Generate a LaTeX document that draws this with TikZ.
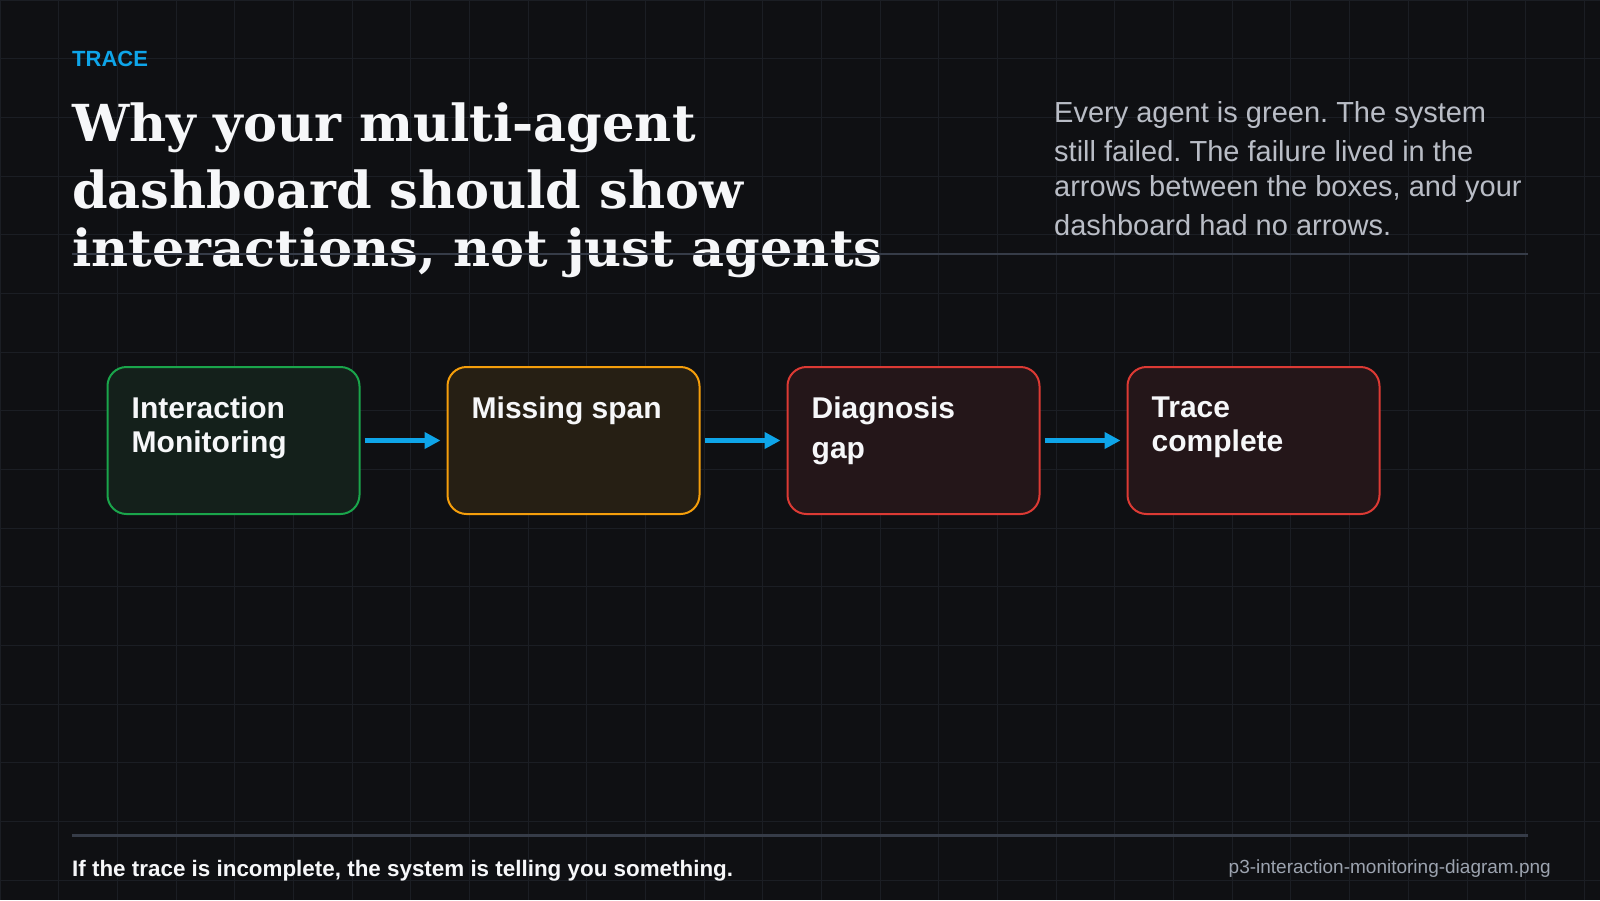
\documentclass[tikz,border=0pt]{standalone}
\usepackage{fontspec}
\setmainfont{Liberation Sans}
\newfontfamily\headfont{DejaVu Serif}
\usetikzlibrary{arrows.meta}
\frenchspacing

\definecolor{bg}{HTML}{0F1013}
\definecolor{gridc}{HTML}{1B1E24}
\definecolor{rulec}{HTML}{363C48}
\definecolor{skyblue}{HTML}{0EA5E9}
\definecolor{titlec}{HTML}{F6F7F9}
\definecolor{parac}{HTML}{B9BDC6}
\definecolor{footc}{HTML}{9CA3AF}
\definecolor{okline}{HTML}{1AA54B}
\definecolor{okfill}{HTML}{14201B}
\definecolor{warnline}{HTML}{F59E0B}
\definecolor{warnfill}{HTML}{261F14}
\definecolor{badline}{HTML}{DC3A34}
\definecolor{badfill}{HTML}{241619}

\tikzset{
  agentbox/.style={rectangle, rounded corners=19pt, line width=2pt, minimum width=252pt,
    minimum height=147pt, inner sep=0pt, outer sep=0pt},
  boxtext/.style={anchor=north west, inner sep=0pt, align=left, text=titlec,
    font=\fontsize{30}{33.5}\selectfont\bfseries, xshift=24pt, yshift=-30pt},
  flow/.style={draw=skyblue, line width=5pt, -{Triangle[length=16pt,width=16pt]},
    shorten <=5pt, shorten >=7pt},
  headline/.style={anchor=base west, inner sep=0pt, text=titlec,
    font=\headfont\bfseries\fontsize{51}{58}\selectfont},
  paraline/.style={anchor=base west, inner sep=0pt, text=parac,
    font=\fontsize{29}{38}\selectfont}
}

\begin{document}
\begin{tikzpicture}[x=1pt, y=-1pt]
\useasboundingbox (0,0) rectangle (1600,900);
\fill[bg] (0,0) rectangle (1600,900);
% background grid
\foreach \gx in {0,58.68,...,1600} \draw[gridc, line width=1pt] (\gx,0) -- (\gx,900);
\foreach \gy in {0,58.68,...,900} \draw[gridc, line width=1pt] (0,\gy) -- (1600,\gy);

\node[anchor=base west, inner sep=0pt, text=skyblue, font=\fontsize{22}{26}\selectfont\bfseries] (kicker) at (72,66.7) {TRACE};

\node[headline] (head1) at (72,141) {Why your multi-agent};
\node[headline] (head2) at (72,208.3) {dashboard should show};
\node[headline] (head3) at (72,266.7) {interactions, not just agents};
\draw[rulec, line width=2.5pt] (72,254) -- (1528,254);

\node[paraline] (para1) at (1054,122.7) {Every agent is green. The system};
\node[paraline] (para2) at (1054,161.7) {still failed. The failure lived in the};
\node[paraline] (para3) at (1054,196.7) {arrows between the boxes, and your};
\node[paraline] (para4) at (1054,235.7) {dashboard had no arrows.};

% the four boxes
\node[agentbox, draw=okline, fill=okfill] (mon) at (233.5,440.5) {};
\node[agentbox, draw=warnline, fill=warnfill] (span) at (573.5,440.5) {};
\node[agentbox, draw=badline, fill=badfill] (diag) at (913.5,440.5) {};
\node[agentbox, draw=badline, fill=badfill] (done) at (1253.5,440.5) {};

\node[boxtext] at (mon.north west) {Interaction\\Monitoring};
\node[boxtext] at (span.north west) {Missing span};
\node[boxtext] at (diag.north west) {Diagnosis\\[6.5pt]gap};
\node[boxtext] at (done.north west) {Trace\\complete};

\draw[flow] (mon.east) -- (span.west);
\draw[flow] (span.east) -- (diag.west);
\draw[flow] (diag.east) -- (done.west);

% footer
\draw[rulec, line width=2.5pt] (72,835.7) -- (1528,835.7);
\node[anchor=base west, inner sep=0pt, text=titlec, font=\fontsize{22.4}{26}\selectfont\bfseries] (moral) at (72,876.7) {If the trace is incomplete, the system is telling you something.};
\node[anchor=base east, inner sep=0pt, text=footc, font=\fontsize{19}{22}\selectfont] (fname) at (1551,873) {p3-interaction-monitoring-diagram.png};
\end{tikzpicture}
\end{document}
